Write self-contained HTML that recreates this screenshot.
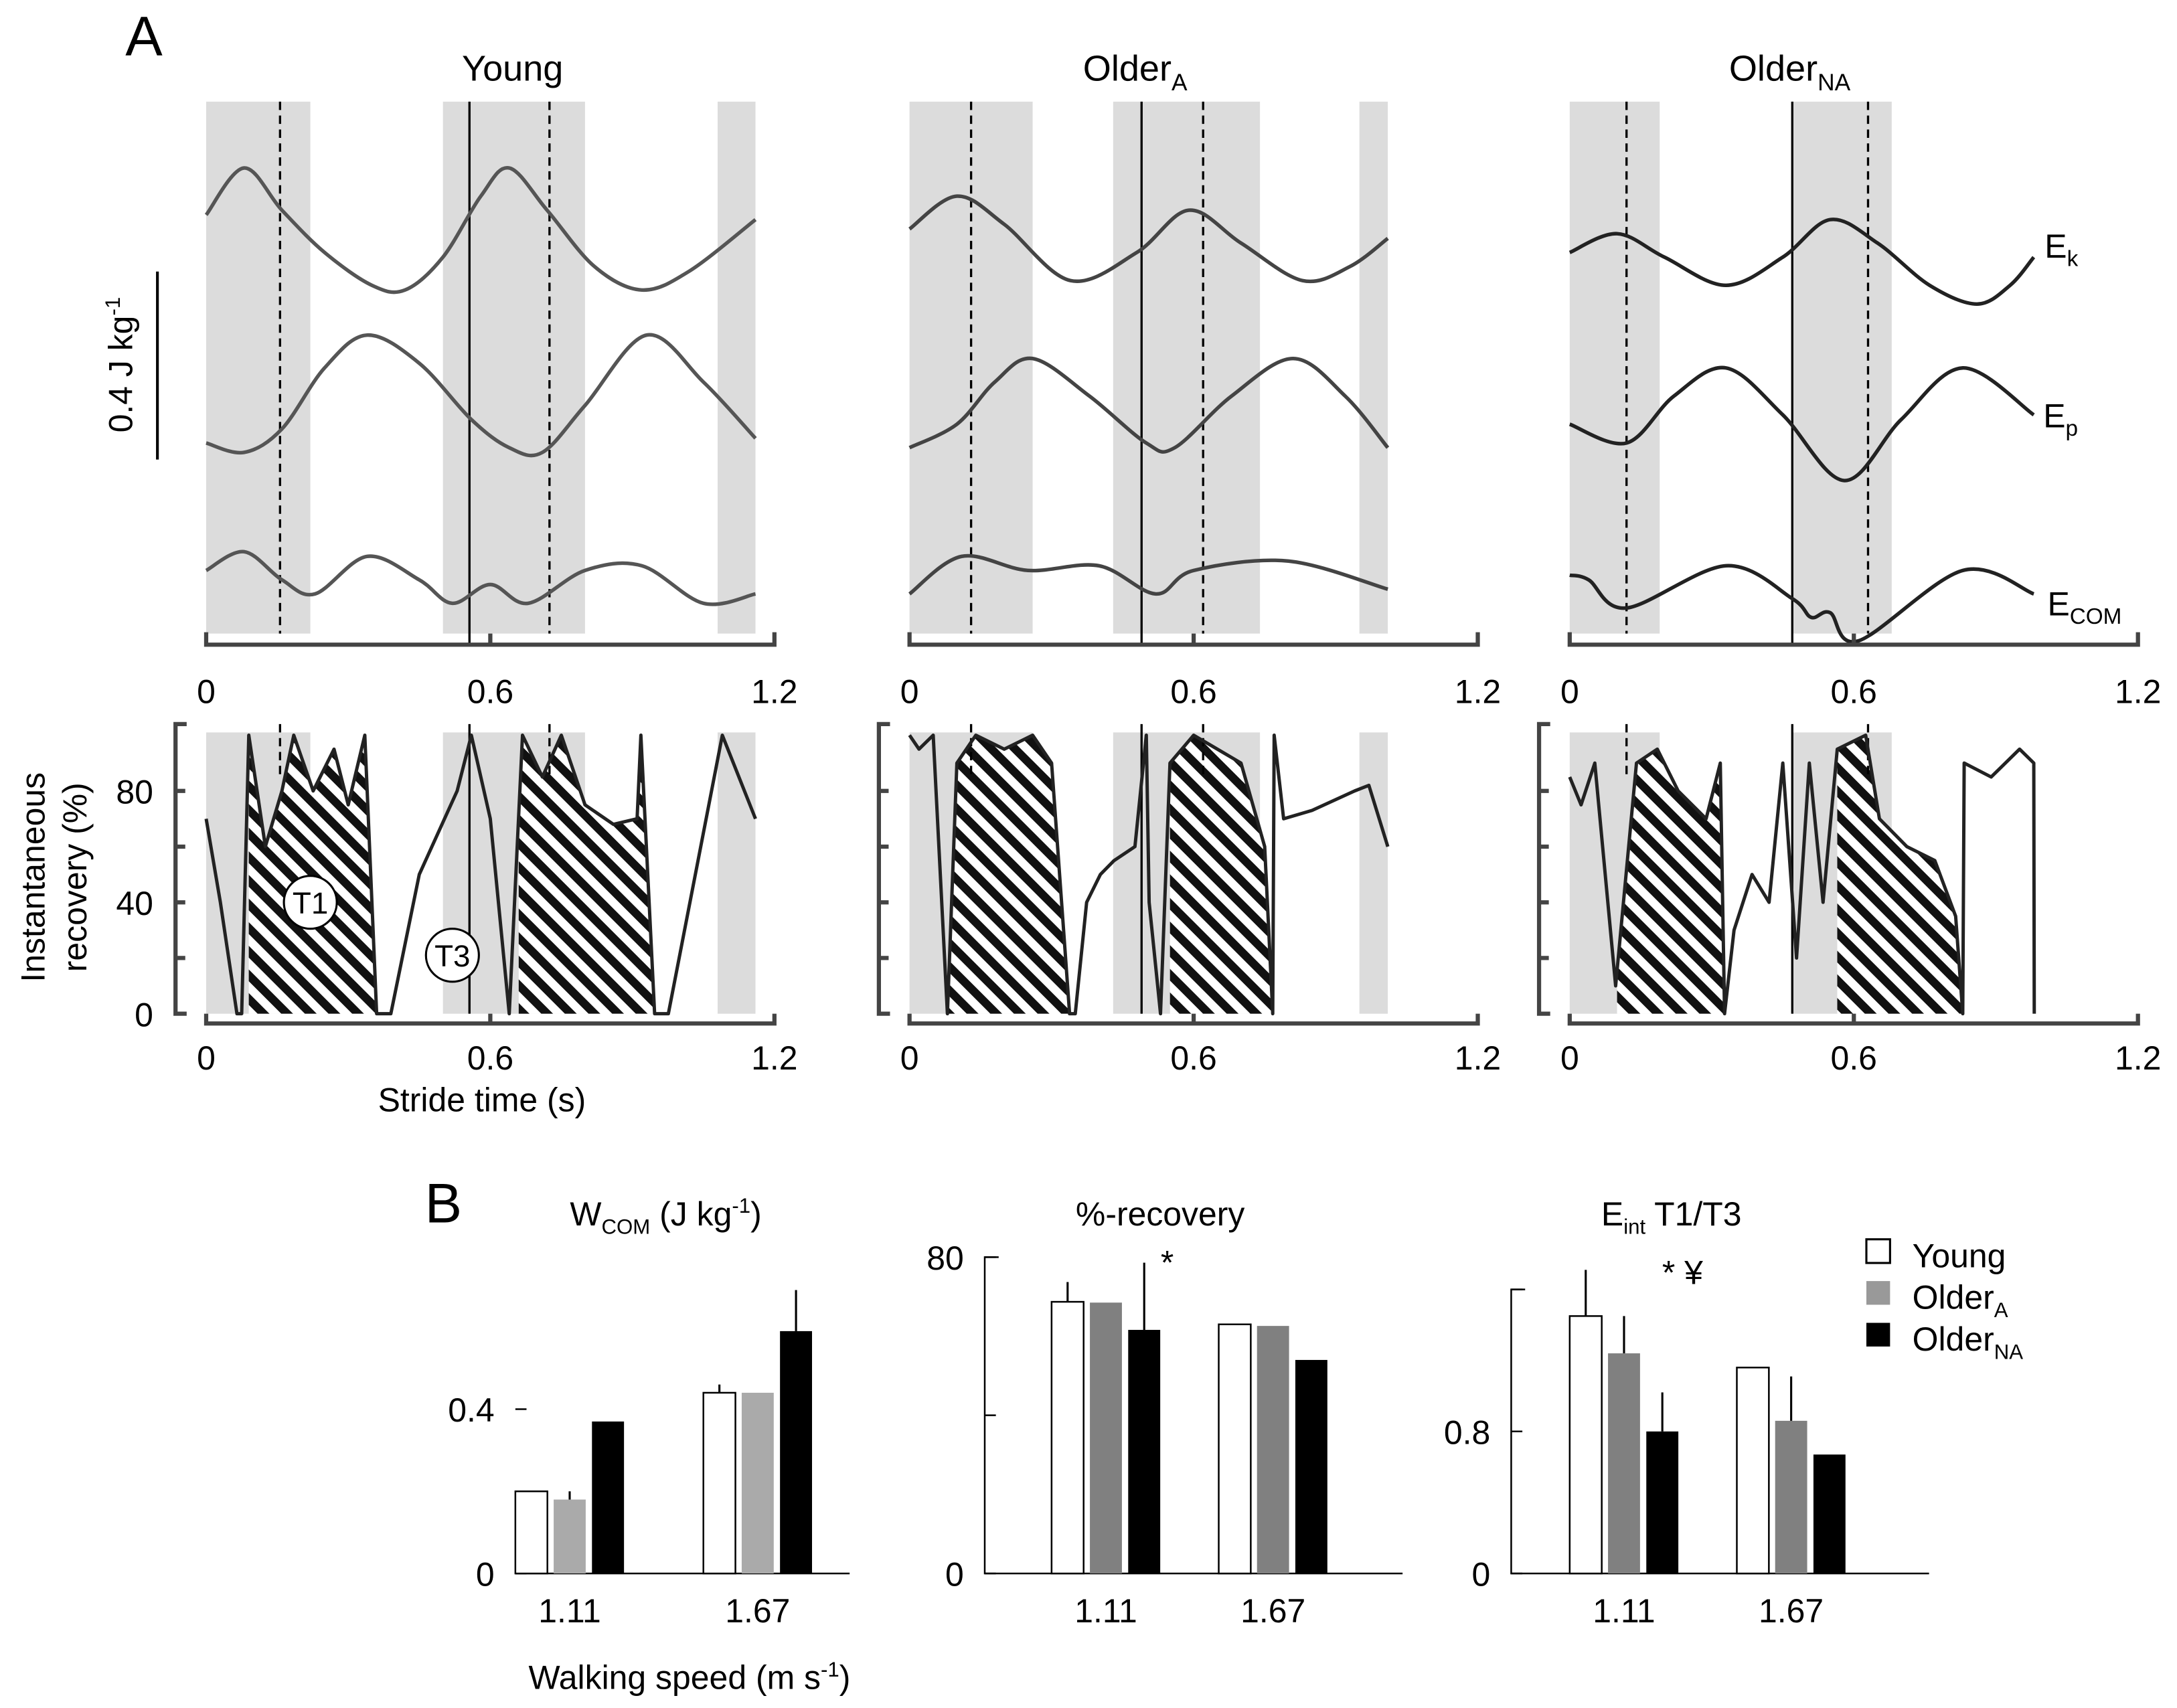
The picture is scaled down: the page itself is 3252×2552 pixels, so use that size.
<!DOCTYPE html>
<html><head><meta charset="utf-8"><style>
html,body{margin:0;padding:0;background:#fff}
svg{display:block;font-family:"Liberation Sans",sans-serif}
</style></head><body>
<svg id="fig" width="3252" height="2552" viewBox="0 0 1563 1226.6" xmlns="http://www.w3.org/2000/svg">
<defs>
<pattern id="hatch" patternUnits="userSpaceOnUse" width="12" height="12" patternTransform="rotate(-45)">
<rect width="12" height="12" fill="#fff"/><rect width="6" height="12" fill="#111"/>
</pattern>
</defs>
<g id="root"></g>
<text x="90" y="40" font-size="40">A</text>
<text x="305" y="878" font-size="40">B</text>
<text x="368" y="58" font-size="26" text-anchor="middle">Young</text>
<text x="815" y="58" font-size="26" text-anchor="middle">Older<tspan font-size="17" dy="7">A</tspan></text>
<text x="1285" y="58" font-size="26" text-anchor="middle">Older<tspan font-size="17" dy="7">NA</tspan></text>
<text x="1468" y="185" font-size="24">E<tspan font-size="16" dy="6">k</tspan></text>
<text x="1467" y="307" font-size="24">E<tspan font-size="16" dy="6">p</tspan></text>
<text x="1470" y="442" font-size="24">E<tspan font-size="16" dy="6">COM</tspan></text>
<line x1="113" y1="195" x2="113" y2="330" stroke="#000" stroke-width="2"/>
<text transform="translate(95,262) rotate(-90)" font-size="24" text-anchor="middle">0.4 J kg<tspan font-size="15" dy="-9">-1</tspan></text>
<text transform="translate(32,630) rotate(-90)" font-size="24" text-anchor="middle">Instantaneous</text>
<text transform="translate(62,630) rotate(-90)" font-size="24" text-anchor="middle">recovery (%)</text>
<text x="346" y="798" font-size="24" text-anchor="middle">Stride time (s)</text>
<text x="478" y="880" font-size="24" text-anchor="middle">W<tspan font-size="15" dy="6">COM</tspan><tspan dy="-6"> (J kg</tspan><tspan font-size="15" dy="-9">-1</tspan><tspan dy="9">)</tspan></text>
<text x="833" y="880" font-size="24" text-anchor="middle">%-recovery</text>
<text x="1200" y="880" font-size="24" text-anchor="middle">E<tspan font-size="15" dy="6">int</tspan><tspan dy="-6"> T1/T3</tspan></text>
<text x="838" y="915" font-size="24" text-anchor="middle">*</text>
<text x="1208" y="922" font-size="24" text-anchor="middle">* ¥</text>
<text x="495" y="1213" font-size="24" text-anchor="middle">Walking speed (m s<tspan font-size="15" dy="-9">-1</tspan><tspan dy="9">)</tspan></text>
<g>
<rect x="1340" y="890" width="17" height="17" fill="#fff" stroke="#000" stroke-width="1.5"/>
<text x="1373" y="910" font-size="24">Young</text>
<rect x="1340" y="920" width="17" height="17" fill="#999"/>
<text x="1373" y="940" font-size="24">Older<tspan font-size="15" dy="6">A</tspan></text>
<rect x="1340" y="950" width="17" height="17" fill="#000"/>
<text x="1373" y="970" font-size="24">Older<tspan font-size="15" dy="6">NA</tspan></text>
</g>
</svg>
<script>
// ===== Panel A data =====
const panelNames = ['young','older-a','older-na'];
const bandsYoung = [[0,0.22],[0.5,0.80],[1.08,1.16]];
const bandsOlderA = [[0,0.26],[0.43,0.74],[0.95,1.01]];
const bandsOlderNA = [[0,0.19],[0.47,0.68]];
const dashedYoung = [0.156,0.725], solidYoung = [0.556];
const dashedOlderA = [0.13,0.62], solidOlderA = [0.49];
const dashedOlderNA = [0.12,0.63], solidOlderNA = [0.47];
// Ek (J/kg, relative)
const tEkYoung = [0,.08,.16,.25,.35,.42,.5,.58,.64,.72,.82,.92,1.02,1.16];
const ekYoung = [.18,.28,.19,.10,.03,.02,.09,.22,.28,.19,.07,.02,.06,.17];
const tEpYoung = [0,.08,.16,.25,.34,.45,.56,.64,.71,.8,.93,1.05,1.16];
const epYoung = [.05,.03,.08,.21,.28,.22,.10,.04,.03,.13,.28,.18,.06];
const tEcomYoung = [0,.08,.16,.23,.34,.45,.52,.6,.68,.8,.92,1.05,1.16];
const ecomYoung = [.09,.13,.07,.04,.12,.07,.02,.06,.02,.09,.10,.02,.04];
const tEkOlderA = [0,.1,.2,.34,.48,.59,.7,.83,.93,1.01];
const ekOlderA = [.15,.22,.16,.04,.10,.19,.12,.04,.07,.13];
const tEpOlderA = [0,.1,.18,.26,.38,.5,.56,.68,.81,.92,1.01];
const epOlderA = [.04,.09,.18,.23,.15,.05,.04,.15,.23,.15,.04];
const tEcomOlderA = [0,.11,.25,.4,.52,.6,.8,1.01];
const ecomOlderA = [.04,.12,.09,.10,.04,.09,.11,.05];
const tEkOlderNA = [0,.1,.2,.33,.45,.55,.65,.76,.86,.93,.98];
const ekOlderNA = [.10,.14,.09,.03,.09,.17,.12,.03,-.01,.03,.09];
const tEpOlderNA = [0,.12,.22,.33,.45,.58,.7,.83,.98];
const epOlderNA = [.09,.05,.15,.21,.11,-.03,.10,.21,.11];
const tEcomOlderNA = [0,.04,.12,.33,.47,.51,.55,.61,.83,.98];
const ecomOlderNA = [.08,.07,.01,.10,.03,-.01,0,-.06,.09,.04];
// Instantaneous recovery (%)
const tRecYoung = [0,.03,.065,.075,.09,.125,.16,.185,.226,.27,.30,.335,.36,.39,.45,.53,.56,.60,.64,.668,.71,.75,.80,.86,.91,.918,.947,.976,1.09,1.16];
const recYoung = [70,40,0,0,100,60,80,100,80,95,75,100,0,0,50,80,100,70,0,100,85,100,75,68,70,100,0,0,100,70];
const hatchYoung = [[0.09,0.36],[0.66,0.947]];
const tRecOlderA = [0,.02,.05,.08,.10,.14,.2,.26,.3,.338,.35,.374,.403,.432,.476,.5,.506,.53,.55,.6,.65,.7,.75,.767,.77,.79,.85,.94,.97,1.01];
const recOlderA = [100,95,100,0,90,100,95,100,90,0,0,40,50,55,60,100,40,0,90,100,95,90,60,0,100,70,73,80,82,60];
const hatchOlderA = [[0.08,0.338],[0.55,0.767]];
const tRecOlderNA = [0,.024,.053,.097,.141,.185,.229,.288,.318,.327,.347,.385,.421,.45,.479,.506,.535,.565,.625,.654,.712,.771,.815,.83,.833,.89,.95,.98,.981];
const recOlderNA = [85,75,90,10,90,95,80,70,90,0,30,50,40,90,20,90,40,95,100,70,60,55,35,0,90,85,95,90,0];
const hatchOlderNA = [[0.1,0.327],[0.565,0.83]];
// ===== Panel B data =====
const speedLabels = ['1.11','1.67'];
const groupNames = ['young','older-a','older-na'];
const wcomValues = [[0.20,0.18,0.37],[0.44,0.44,0.59]];
const wcomErrors = [[0,0.02,0],[0.02,0,0.10]];
const wcomTicks = [0,0.4];
const recValues = [[68.7,68.5,61.6],[63,62.6,54]];
const recErrors = [[5,0,17],[0,0,0]];
const recTicks = [0,40,80];
const recTickLabels = ['0','','80'];
const eintValues = [[1.45,1.24,0.80],[1.16,0.86,0.67]];
const eintErrors = [[0.26,0.21,0.22],[0,0.25,0]];
const eintTicks = [0,0.8,1.6];
const eintTickLabels = ['0','0.8',''];

const NS='http://www.w3.org/2000/svg';
const root=document.getElementById('root');
function mk(tag,attrs,parent){const e=document.createElementNS(NS,tag);for(const k in attrs)e.setAttribute(k,attrs[k]);(parent||root).appendChild(e);return e;}
function smooth(pts){let d='M'+pts[0][0]+','+pts[0][1];for(let i=0;i<pts.length-1;i++){const p0=pts[Math.max(0,i-1)],p1=pts[i],p2=pts[i+1],p3=pts[Math.min(pts.length-1,i+2)];const c1=[p1[0]+(p2[0]-p0[0])/6,p1[1]+(p2[1]-p0[1])/6],c2=[p2[0]-(p3[0]-p1[0])/6,p2[1]-(p3[1]-p1[1])/6];d+=' C'+c1[0]+','+c1[1]+' '+c2[0]+','+c2[1]+' '+p2[0]+','+p2[1];}return d;}

const panels=[
 {x0:148,bands:bandsYoung,dashed:dashedYoung,solid:solidYoung,ek:[tEkYoung,ekYoung],ep:[tEpYoung,epYoung],ec:[tEcomYoung,ecomYoung],rec:[tRecYoung,recYoung],hatch:hatchYoung,topCol:'#555'},
 {x0:653,bands:bandsOlderA,dashed:dashedOlderA,solid:solidOlderA,ek:[tEkOlderA,ekOlderA],ep:[tEpOlderA,epOlderA],ec:[tEcomOlderA,ecomOlderA],rec:[tRecOlderA,recOlderA],hatch:hatchOlderA,topCol:'#444'},
 {x0:1127,bands:bandsOlderNA,dashed:dashedOlderNA,solid:solidOlderNA,ek:[tEkOlderNA,ekOlderNA],ep:[tEpOlderNA,epOlderNA],ec:[tEcomOlderNA,ecomOlderNA],rec:[tRecOlderNA,recOlderNA],hatch:hatchOlderNA,topCol:'#222'}
];
const PX=340; // px per second
panels.forEach((p,pi)=>{
 const nm=panelNames[pi];
 const X=t=>p.x0+t*PX;
 const g=mk('g',{});
 
 
 const g2=mk('g',{});
 
 
 p.bands.forEach((b,bi)=>{
  const r=mk('rect',{x:X(b[0]),y:73,width:X(b[1])-X(b[0]),height:382,fill:'#dcdcdc'},g);
  
  
  const r2=mk('rect',{x:X(b[0]),y:526,width:X(b[1])-X(b[0]),height:202,fill:'#dcdcdc'},g2);
  
  
 });
 // hatched areas
 const [tr,vr]=p.rec;
 const Y2=v=>728-v*2;
 function interp(t){for(let i=0;i<tr.length-1;i++){if(t>=tr[i]&&t<=tr[i+1]){const f=(t-tr[i])/((tr[i+1]-tr[i])||1);return vr[i]+f*(vr[i+1]-vr[i]);}}return 0;}
 p.hatch.forEach((h,hi)=>{
  let pts=[[X(h[0]),Y2(0)],[X(h[0]),Y2(interp(h[0]))]];
  tr.forEach((t,i)=>{if(t>h[0]&&t<h[1])pts.push([X(t),Y2(vr[i])]);});
  pts.push([X(h[1]),Y2(interp(h[1]))],[X(h[1]),Y2(0)]);
  const pg=mk('polygon',{points:pts.map(q=>q.join(',')).join(' '),fill:'url(#hatch)'},g2);
  
  
 });
 // lines
 p.dashed.forEach(t=>{
  const l=mk('line',{x1:X(t),x2:X(t),y1:73,y2:455,stroke:'#000','stroke-width':1.6,'stroke-dasharray':'6,4'},g);
  
  
  const l2=mk('line',{x1:X(t),x2:X(t),y1:520,y2:560,stroke:'#000','stroke-width':1.6,'stroke-dasharray':'6,4'},g2);
  
  
 });
 p.solid.forEach(t=>{
  const l=mk('line',{x1:X(t),x2:X(t),y1:73,y2:463,stroke:'#000','stroke-width':1.6},g);
  
  
  const l2=mk('line',{x1:X(t),x2:X(t),y1:520,y2:728,stroke:'#000','stroke-width':1.6},g2);
  
  
 });
 // energy curves
 [['ek',215,'ek-curve'],['ep',335,'ep-curve'],['ec',440,'ecom-curve']].forEach(([k,base,name])=>{
  const [ts,vs]=p[k];
  const pts=ts.map((t,i)=>[X(t),base-vs[i]*337]);
  const c=mk('path',{d:smooth(pts),fill:'none',stroke:p.topCol,'stroke-width':2.6},g);
  
  
 });
 // recovery curve
 const rc=mk('polyline',{points:tr.map((t,i)=>X(t)+','+Y2(vr[i])).join(' '),fill:'none',stroke:'#222','stroke-width':2.4,'stroke-linejoin':'round'},g2);
 
 
 // top axis
 const ax=mk('path',{d:`M${X(0)},454 V463 H${X(1.2)} V454 M${X(0.6)},463 V455`,fill:'none',stroke:'#444','stroke-width':3},g);
 
 
 // bottom axis
 const ax2=mk('path',{d:`M${X(0)},728 V735 H${X(1.2)} V728 M${X(0.6)},735 V728`,fill:'none',stroke:'#444','stroke-width':3},g2);
 
 
 const yx=p.x0-22;
 let yd=`M${yx+8},520 H${yx} V728 H${yx+8}`;
 [20,40,60,80].forEach(v=>{yd+=` M${yx},${Y2(v)} H${yx+7}`;});
 const ay=mk('path',{d:yd,fill:'none',stroke:'#444','stroke-width':3},g2);
 
 
 ['0','0.6','1.2'].forEach((s,i)=>{
  const t=[0,0.6,1.2][i];
  const tx=mk('text',{x:X(t),y:505,'font-size':24,'text-anchor':'middle'},g);tx.textContent=s;
  
  
  const tx2=mk('text',{x:X(t),y:768,'font-size':24,'text-anchor':'middle'},g2);tx2.textContent=s;
  
  
 });
 if(pi===0){
  [0,40,80].forEach(v=>{const tx=mk('text',{x:110,y:Y2(v)+9,'font-size':24,'text-anchor':'end'},g2);tx.textContent=String(v);
   
   });
  [['T1',0.22,40],['T3',0.52,21]].forEach(([s,t,v])=>{
   const c=mk('circle',{cx:X(t),cy:Y2(v),r:19,fill:'#fff',stroke:'#000','stroke-width':1.5},g2);
   
   
   const tx=mk('text',{x:X(t),y:Y2(v)+8,'font-size':22,'text-anchor':'middle'},g2);tx.textContent=s;
   
   
  });
 }
});

// ===== Panel B bars =====
const charts=[
 {name:'wcom',ax:370,scale:295,vals:wcomValues,errs:wcomErrors,ticks:wcomTicks,labels:['0','0.4'],g0:370,colors:['#fff','#aaa','#000'],top:null},
 {name:'recovery',ax:707,scale:2.84,vals:recValues,errs:recErrors,ticks:recTicks,labels:recTickLabels,g0:755,colors:['#fff','#808080','#000'],top:80},
 {name:'eint',ax:1085,scale:127.5,vals:eintValues,errs:eintErrors,ticks:eintTicks,labels:eintTickLabels,g0:1127,colors:['#fff','#808080','#000'],top:1.6}
];
charts.forEach(c=>{
 const Y=v=>1130-v*c.scale;
 const g=mk('g',{});
 
 
 const topY=c.top!=null?Y(c.top):1010;
 if(c.name!=='wcom'){
  const a=mk('path',{d:`M${c.ax+10},${topY} H${c.ax} V1130 H${c.ax+300}`,fill:'none',stroke:'#000','stroke-width':1.2},g);
  
  
 } else {
  const a=mk('path',{d:`M${c.ax},1130 H${c.ax+240}`,fill:'none',stroke:'#000','stroke-width':1.2},g);
  
  
 }
 c.ticks.forEach((v,i)=>{
  const tk=mk('line',{x1:c.ax,x2:c.ax+8,y1:Y(v),y2:Y(v),stroke:'#000','stroke-width':1.2},g);
  
  
  if(c.labels[i]){const tx=mk('text',{x:c.ax-15,y:Y(v)+9,'font-size':24,'text-anchor':'end'},g);tx.textContent=c.labels[i];
   
   }
 });
 c.vals.forEach((grp,gi)=>{
  const gx=c.g0+gi*(c.name==='wcom'?135:120);
  grp.forEach((v,bi)=>{
   const x=gx+bi*27.5;
   const r=mk('rect',{x:x,y:Y(v),width:23,height:1130-Y(v),fill:c.colors[bi],stroke:bi===0?'#000':'none','stroke-width':1.2},g);
   
   
   const e=c.errs[gi][bi];
   if(e>0){const l=mk('line',{x1:x+11.5,x2:x+11.5,y1:Y(v),y2:Y(v+e),stroke:'#000','stroke-width':1.5},g);
    
    }
  });
  const tx=mk('text',{x:gx+39,y:1165,'font-size':24,'text-anchor':'middle'},g);tx.textContent=speedLabels[gi];
  
  
 });
});
</script>
</body></html>
